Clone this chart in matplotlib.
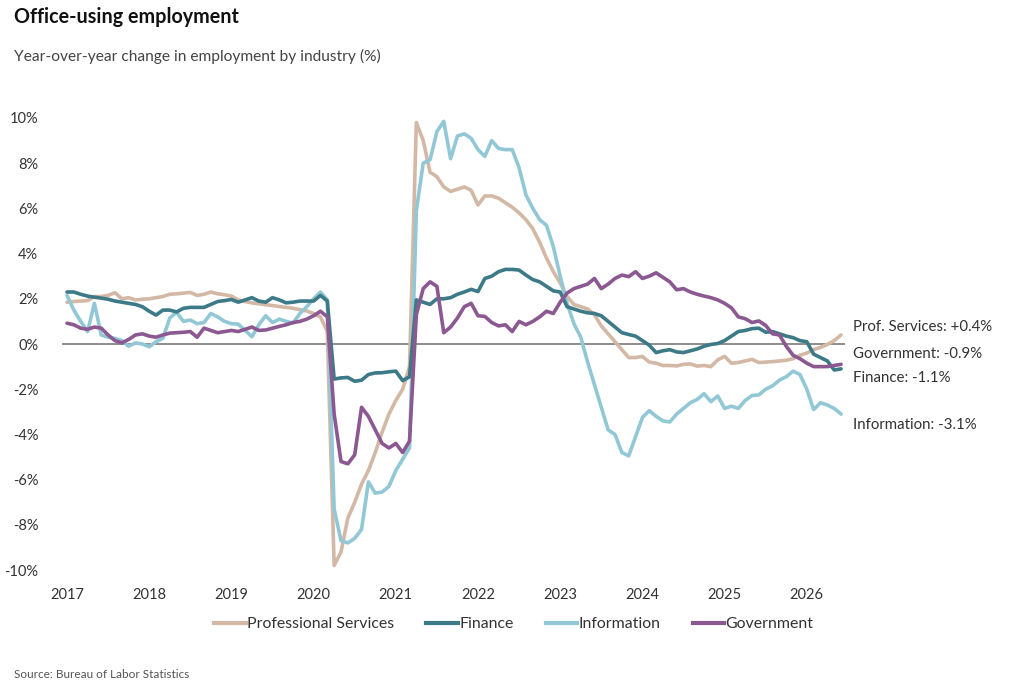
import matplotlib
matplotlib.use("Agg")
import matplotlib.pyplot as plt
import numpy as np

# Monthly data, Jan 2017 .. Jun 2026 (year-over-year % change)
start_year = 2017
prof_services = [
    1.85, 1.88, 1.9, 1.92, 2.1, 2.1, 2.15, 2.27, 2.0, 2.05, 1.95, 1.98,
    2.0, 2.05, 2.1, 2.2, 2.22, 2.25, 2.28, 2.15, 2.2, 2.3, 2.22, 2.18,
    2.12, 1.95, 1.88, 1.82, 1.78, 1.74, 1.7, 1.66, 1.62, 1.58, 1.52, 1.46,
    1.35, 1.2, 0.55, -9.8, -9.2, -7.7, -7.0, -6.2, -5.6, -4.8, -3.9, -3.1,
    -2.5, -2.0, -1.0, 9.8, 9.0, 7.6, 7.4, 6.95, 6.75, 6.85, 6.95, 6.8,
    6.15, 6.55, 6.55, 6.45, 6.25, 6.05, 5.8, 5.5, 5.1, 4.5, 3.8, 3.2,
    2.7, 2.1, 1.75, 1.65, 1.55, 1.3, 0.8, 0.45, 0.1, -0.25, -0.6, -0.6,
    -0.55, -0.8, -0.85, -0.95, -0.95, -0.97, -0.9, -0.88, -0.98, -0.95, -1.0, -0.7,
    -0.55, -0.85, -0.82, -0.75, -0.68, -0.82, -0.8, -0.78, -0.75, -0.72, -0.65, -0.5,
    -0.4, -0.25, -0.15, -0.02, 0.15, 0.4,
]
finance = [
    2.3, 2.3, 2.2, 2.12, 2.07, 2.03, 1.98, 1.9, 1.85, 1.8, 1.75, 1.65,
    1.45, 1.28, 1.5, 1.5, 1.42, 1.58, 1.62, 1.62, 1.62, 1.75, 1.88, 1.92,
    1.97, 1.85, 1.95, 2.05, 1.9, 1.85, 2.05, 1.95, 1.82, 1.85, 1.9, 1.9,
    1.9, 2.15, 1.9, -1.55, -1.5, -1.48, -1.65, -1.6, -1.35, -1.28, -1.27, -1.23,
    -1.2, -1.62, -1.45, 1.95, 1.85, 1.75, 2.0, 2.0, 2.05, 2.2, 2.3, 2.42,
    2.32, 2.9, 3.0, 3.2, 3.3, 3.3, 3.27, 3.05, 2.85, 2.75, 2.55, 2.35,
    2.3, 1.65, 1.55, 1.45, 1.38, 1.35, 1.25, 1.0, 0.75, 0.5, 0.42, 0.35,
    0.15, -0.05, -0.38, -0.3, -0.25, -0.35, -0.38, -0.3, -0.22, -0.1, -0.02, 0.02,
    0.15, 0.35, 0.55, 0.6, 0.68, 0.7, 0.52, 0.55, 0.45, 0.35, 0.28, 0.15,
    0.1, -0.45, -0.6, -0.75, -1.15, -1.1,
]
information = [
    2.15, 1.5, 1.0, 0.55, 1.8, 0.4, 0.3, 0.25, 0.15, -0.1, 0.05, 0.0,
    -0.12, 0.1, 0.25, 1.15, 1.4, 1.0, 1.06, 0.9, 0.95, 1.35, 1.2, 1.0,
    0.9, 0.88, 0.6, 0.32, 0.85, 1.25, 0.95, 1.1, 1.0, 0.93, 1.35, 1.65,
    2.0, 2.3, 1.95, -7.3, -8.7, -8.8, -8.6, -8.2, -6.1, -6.6, -6.55, -6.3,
    -5.6, -5.1, -4.6, 5.9, 8.0, 8.15, 9.4, 9.85, 8.2, 9.2, 9.3, 9.1,
    8.6, 8.3, 9.0, 8.65, 8.6, 8.6, 7.8, 6.6, 6.0, 5.5, 5.25, 4.3,
    3.0, 1.8, 0.9, 0.3, -0.8, -1.8, -2.8, -3.8, -4.0, -4.8, -4.95, -4.1,
    -3.25, -2.95, -3.2, -3.4, -3.45, -3.1, -2.85, -2.6, -2.45, -2.2, -2.55, -2.3,
    -2.85, -2.75, -2.85, -2.5, -2.28, -2.25, -2.0, -1.85, -1.6, -1.45, -1.2, -1.35,
    -2.0, -2.9, -2.6, -2.7, -2.85, -3.1,
]
government = [
    0.92, 0.85, 0.7, 0.65, 0.75, 0.7, 0.4, 0.15, 0.05, 0.2, 0.4, 0.45,
    0.35, 0.3, 0.4, 0.48, 0.5, 0.52, 0.55, 0.3, 0.7, 0.6, 0.5, 0.55,
    0.6, 0.55, 0.65, 0.75, 0.6, 0.62, 0.7, 0.78, 0.85, 0.95, 1.0, 1.1,
    1.25, 1.45, 1.2, -3.1, -5.2, -5.3, -4.9, -2.8, -3.2, -3.8, -4.4, -4.6,
    -4.4, -4.8, -4.3, 1.3, 2.45, 2.75, 2.55, 0.5, 0.75, 1.15, 1.65, 1.8,
    1.25, 1.22, 0.95, 0.8, 0.85, 0.55, 1.0, 0.85, 1.0, 1.2, 1.45, 1.35,
    1.85, 2.25, 2.45, 2.55, 2.65, 2.9, 2.45, 2.65, 2.9, 3.05, 2.98, 3.2,
    2.9, 3.0, 3.15, 2.95, 2.75, 2.4, 2.45, 2.3, 2.2, 2.12, 2.05, 1.95,
    1.8, 1.6, 1.2, 1.12, 0.95, 1.02, 0.82, 0.45, 0.4, -0.1, -0.5, -0.65,
    -0.85, -1.0, -1.0, -1.0, -0.95, -0.9,
]

series_names = ["Professional Services", "Finance", "Information", "Government"]
end_labels = ["Prof. Services: +0.4%", "Government: -0.9%", "Finance: -1.1%", "Information: -3.1%"]
year_ticks = list(range(2017, 2027))
y_ticks = [10, 8, 6, 4, 2, 0, -2, -4, -6, -8, -10]

colors = {
    "Professional Services": "#d3b9a5",
    "Finance": "#3c7a88",
    "Information": "#92c8d6",
    "Government": "#8b5891",
}

plt.rcParams["font.family"] = ["Lato", "DejaVu Sans"]

fig = plt.figure(figsize=(10.24, 6.88), dpi=100)
W, H = 1024, 688
ax = fig.add_axes([62 / W, 1 - 576.8 / H, (845 - 62) / W, (576.8 - 111.2) / H])

n = len(prof_services)
t = start_year + np.arange(n) / 12.0

ax.axhline(0, color="#7a7a7a", lw=1.2, zorder=1)
data = {
    "Professional Services": prof_services,
    "Finance": finance,
    "Information": information,
    "Government": government,
}
draw_order = ["Professional Services", "Information", "Finance", "Government"]
for name in draw_order:
    ax.plot(t, data[name], color=colors[name], lw=2.6, solid_joinstyle="round",
            solid_capstyle="round", zorder=3 if name != "Professional Services" else 2)

x_left = 2017 - 5 / 82.2
x_right = 2017 + 778 / 82.2
ax.set_xlim(x_left, x_right)
ax.set_ylim(-10.3, 10.3)
ax.set_xticks(year_ticks)
ax.set_xticklabels([str(y) for y in year_ticks])
ax.set_yticks(y_ticks)
ax.set_yticklabels([f"{v}%" for v in y_ticks])
ax.tick_params(axis="both", length=0, labelsize=10.5, colors="#333333")
ax.tick_params(axis="y", pad=17)
ax.tick_params(axis="x", pad=8)
for s in ax.spines.values():
    s.set_visible(False)

# End labels
label_y = [0.75, -0.45, -1.5, -3.6]
for txt, yv in zip(end_labels, label_y):
    ax.text(x_left + (853 - 62) / 82.2, yv, txt, fontsize=10.8, color="#333333",
            va="center", ha="left", clip_on=False)

# Title and subtitle
fig.text(14 / W, 1 - 17 / H, "Office-using employment", fontsize=14.2, fontweight="bold",
         color="#111111", va="center", ha="left")
fig.text(14 / W, 1 - 56 / H, "Year-over-year change in employment by industry (%)",
         fontsize=11.2, color="#444444", va="center", ha="left")
fig.text(14 / W, 1 - 675 / H, "Source: Bureau of Labor Statistics", fontsize=8.5,
         color="#555555", va="center", ha="left")

# Legend
from matplotlib.lines import Line2D
handles = [Line2D([0], [0], color=colors[nm], lw=3) for nm in series_names]
fig.legend(handles, series_names, loc="center", bbox_to_anchor=(514 / W, 1 - 624 / H),
           ncol=4, frameon=False, fontsize=11.4, handlelength=2.0, handletextpad=0.1,
           columnspacing=2.0, labelcolor="#333333")

fig.savefig("out.png", dpi=100)
